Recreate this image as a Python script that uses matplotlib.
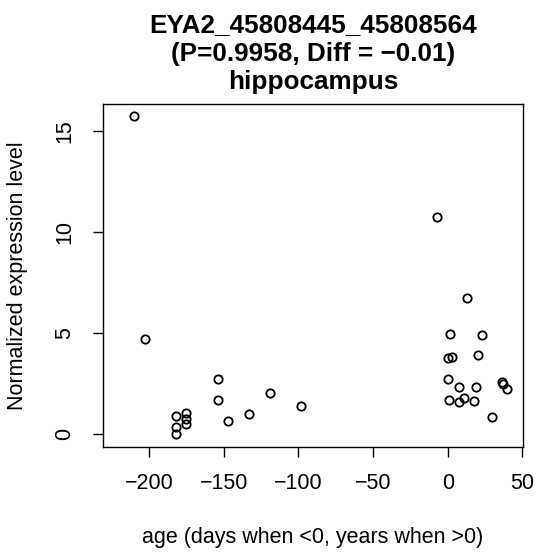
import matplotlib
matplotlib.use("Agg")
import matplotlib.pyplot as plt
import numpy as np

plt.rcParams['font.family'] = ['Liberation Sans', 'DejaVu Sans']
plt.rcParams['axes.unicode_minus'] = True

# age (days when <0, years when >0) and expression
age = [-209.9, -202.9, -154.0, -154.0, -119.2, -133.1, -147.1, -98.2,
       -182.1, -182.1, -182.1, -175.0, -175.0, -175.0,
       -7.2, 12.7, 1.8, 22.8, 0.2, 3.1, 20.5, 0.4, 7.8, 18.7,
       36.4, 36.8, 39.9, 0.7, 7.8, 10.9, 17.6, 29.7]
expr = [15.74, 4.68, 2.70, 1.67, 2.03, 0.99, 0.63, 1.36,
        0.88, 0.33, 0.0, 1.01, 0.75, 0.50,
        10.73, 6.75, 4.94, 4.89, 3.76, 3.79, 3.90, 2.71, 2.31, 2.31,
        2.56, 2.47, 2.20, 1.67, 1.57, 1.77, 1.62, 0.81]

x_ticks = [-200, -150, -100, -50, 0, 50]
y_ticks = [0, 5, 10, 15]

title = "EYA2_45808445_45808564\n(P=0.9958, Diff = \u22120.01)\nhippocampus"

fig = plt.figure(figsize=(5.39, 5.59), dpi=100)
ax = fig.add_axes([0.1917, 0.2009, 0.9698 - 0.1917, 0.8140 - 0.2009])

ax.plot(age, expr, linestyle='none', marker='o', markersize=6,
        markerfacecolor='none', markeredgecolor='black', markeredgewidth=1.3)

ax.set_xlim(-230.6, 50.2)
ax.set_ylim(-0.645, 16.35)
ax.set_xticks(x_ticks)
ax.set_yticks(y_ticks)
ax.tick_params(axis='both', labelsize=15.5, length=7.2, width=1.0, direction='out')
ax.tick_params(axis='x', pad=12)
ax.tick_params(axis='y', pad=13)
for lab in ax.get_yticklabels():
    lab.set_rotation(90)
    lab.set_va('center')

for s in ax.spines.values():
    s.set_linewidth(1.0)

ax.set_title(title, fontsize=18.8, fontweight='bold', pad=11, linespacing=1.22)
fig.text(0.5809, 1 - 537 / 559, "age (days when <0, years when >0)",
         ha='center', va='center', fontsize=15.5)
fig.text(18 / 539, 0.5074, "Normalized expression level",
         ha='center', va='center', rotation=90, fontsize=15.5)

fig.savefig("out.png", dpi=100)
